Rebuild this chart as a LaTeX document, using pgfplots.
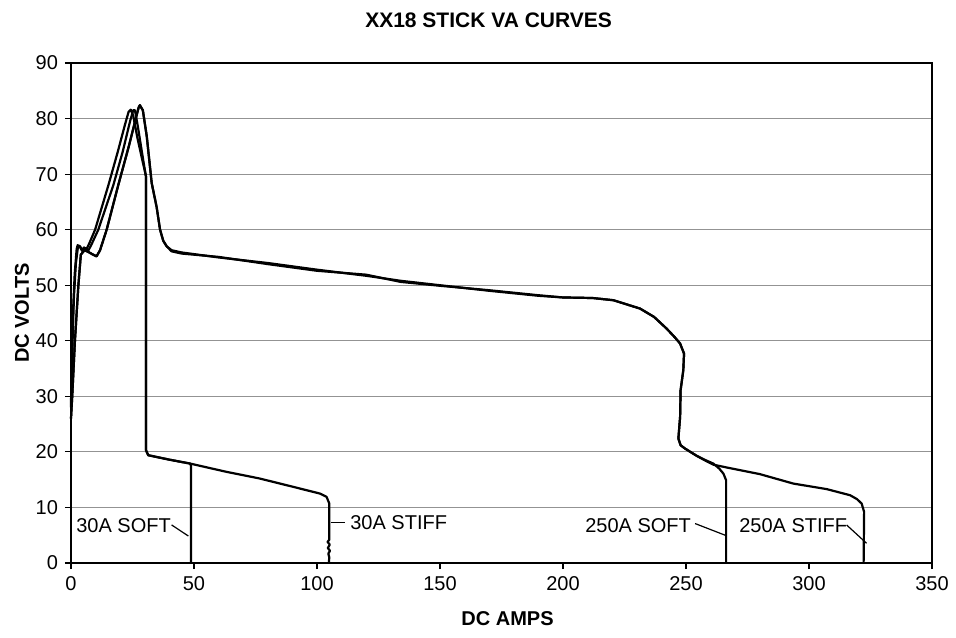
\documentclass[border=0pt]{standalone}
\usepackage{fontspec}
\setmainfont{Liberation Sans}
\usepackage{pgfplots}
\pgfplotsset{compat=1.18}

\begin{document}
\begin{tikzpicture}
\useasboundingbox (-35.5pt,-37pt) rectangle (442.5pt,281.5pt);
\begin{axis}[
  scale only axis,
  width=430.5pt, height=250pt,
  xmin=0, xmax=350, ymin=0, ymax=90,
  xtick distance=50, ytick distance=10,
  xtick pos=bottom, ytick pos=left,
  tick align=outside, major tick length=3pt,
  tick style={black, line width=0.6pt},
  axis line style={line width=0.9pt},
  ymajorgrids, grid style={gray!85, line width=0.6pt},
  /pgf/number format/assume math mode=true,
  ticklabel style={font=\fontsize{10}{12}\selectfont},
  cycle list={black\\},
  every axis plot/.append style={line width=1.1pt, line join=round, mark=none},
  clip=false,
]
% 250A SOFT
\addplot coordinates {(0,26) (0.5,30) (1.6,40) (3.0,50) (4.0,55.5) (5.5,56.3) (7,56) (9,55.5)
 (10.4,55.2) (11.8,56.3) (14.5,60) (19.2,68) (23.5,75) (26.5,80.3) (27.5,82) (28,82.4)
 (29.2,81.5) (30.8,76.8) (32.8,68.4) (34.8,64.1) (36.2,60) (37.5,58) (38.9,57) (40.9,56.3)
 (45,55.9) (60,55) (80,54) (100,52.8) (120,51.7) (134,50.8) (150,50) (170,49) (190,48.1)
 (200,47.8) (212,47.7) (220.5,47.3) (231.3,45.8) (237,44.3) (242.1,42.2) (245.5,40.6)
 (247.6,39.5) (249.2,37.7) (248.9,34.7) (247.8,31.1) (247.6,26.3) (246.9,22.4) (247.8,21.2)
 (249.6,20.6) (254.3,19.3) (258,18.5) (261.1,17.9) (263.5,17) (265.2,16.1) (266.3,14.9)
 (266.3,0)};
% 250A STIFF
\addplot coordinates {(0,26) (0.5,30) (1.6,40) (3.0,50) (4.0,55.5) (5.5,56.3) (7,56) (9,55.5)
 (10.4,55.2) (11.8,56.3) (14.5,60) (19.2,68) (23.5,75) (26.5,80.3) (27.5,82) (28,82.4)
 (29.2,81.5) (30.8,76.8) (32.8,68.4) (34.8,64.1) (36.2,60) (37.5,58) (38.9,57) (40.9,56.1)
 (45,55.7) (60,55.1) (80,53.8) (100,52.6) (120,51.9) (134,50.6) (150,49.9) (170,49.1) (190,48.2)
 (200,47.8) (212,47.7) (220.5,47.3) (231.3,45.8) (237,44.3) (242.1,42.2) (245.5,40.6)
 (247.6,39.5) (249.2,37.7) (248.9,34.7) (247.8,31.1) (247.6,26.3) (246.9,22.4) (247.8,21.2)
 (249.6,20.6) (254.3,19.3) (258,18.4) (261.1,17.7) (266.5,17.2) (280,16) (293.6,14.3)
 (307.2,13.3) (316.7,12.2) (319.5,11.5) (321.4,10.7) (322.4,9.2) (322.2,0)};
% 30A SOFT
\addplot coordinates {(0,28) (0.3,35) (0.8,45) (1.5,52) (2.3,56.5) (2.7,57.2) (3.7,57)
 (4.5,56.3) (5.3,56.8) (6.2,56.4) (7.5,57.6) (9.8,60) (15.2,68) (19,74) (22,79) (23.4,81.2)
 (24.3,81.6) (25.3,80.5) (27,76.5) (29,72.5) (30.3,70) (30.5,69.5) (30.5,20.3) (31.4,19.4)
 (40,18.6) (48.4,17.9) (48.8,17.5) (48.8,0)};
% 30A STIFF
\addplot coordinates {(0,29) (0.5,38) (1.2,48) (2,54) (2.8,56.8) (3.5,57) (4.5,56.2) (5.7,56.7)
 (7,56.2) (8.5,57.5) (11.1,60) (17.2,68) (21,74) (24,79.5) (25.3,81.5) (26,81.5) (27.2,78.5)
 (29,73.5) (30.3,70) (30.5,69.5) (30.5,20.3) (31.4,19.4) (40,18.6) (48.4,17.9) (63.3,16.4)
 (76.8,15.2) (90.4,13.7) (101.2,12.5) (103.9,11.9) (105,10.7) (105,4.2) (104.3,3.8) (105.2,3.3)
 (104.4,2.7) (105.3,2.2) (104.6,1.7) (105,1) (104.8,0)};
% labels and leaders
\draw[line width=0.6pt] (axis cs:40.9,6.85) -- (axis cs:47.7,4.86);
\draw[line width=0.6pt] (axis cs:105.5,7.3) -- (axis cs:111.4,7.3);
\draw[line width=0.6pt] (axis cs:253.7,7.1) -- (axis cs:266.5,4.9);
\draw[line width=0.6pt] (axis cs:315.3,6.84) -- (axis cs:323.4,3.55);
\node[anchor=west, inner sep=0pt] at (axis cs:2.0,6.8) {30A SOFT};
\node[anchor=west, inner sep=0pt] at (axis cs:113.4,7.3) {30A STIFF};
\node[anchor=west, inner sep=0pt] at (axis cs:208.9,6.8) {250A SOFT};
\node[anchor=west, inner sep=0pt] at (axis cs:271.5,6.8) {250A STIFF};
% title and axis labels
\node[font=\fontsize{10.5}{12}\selectfont\bfseries] at ([yshift=21.5pt]rel axis cs:0.485,1) {XX18 STICK VA CURVES};
\node[font=\bfseries] at ([yshift=-28pt]rel axis cs:0.507,0) {DC AMPS};
\node[font=\bfseries, rotate=90] at ([xshift=-24.5pt]rel axis cs:0,0.5) {DC VOLTS};
\end{axis}
\end{tikzpicture}
\end{document}
